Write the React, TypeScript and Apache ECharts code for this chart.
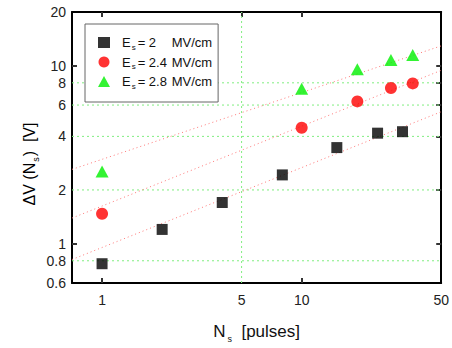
import React, { useEffect, useRef } from "react";
import * as echarts from "echarts";

const xTickLabels = [1, 5, 10, 50];
const yTickLabels = [0.6, 0.8, 1, 2, 4, 6, 8, 10, 20];
const greenGridY = [0.8, 2, 4, 6, 8];
const blueGridY = [1, 10];
const greenGridX = [5];
const blueGridX = [1, 10];
const xRange = [0.707, 50];
const yRange = [0.6, 20];

const seriesNames = ["Es = 2 MV/cm", "Es = 2.4 MV/cm", "Es = 2.8 MV/cm"];
const fieldLabels = ["2", "2.4", "2.8"];

const blackX = [1, 2, 4, 8, 15, 24, 32];
const blackY = [0.77, 1.2, 1.7, 2.43, 3.46, 4.17, 4.25];
const redX = [1, 10, 19, 28, 36];
const redY = [1.47, 4.47, 6.29, 7.48, 7.94];
const greenX = [1, 10, 19, 28, 36];
const greenY = [2.54, 7.4, 9.53, 10.75, 11.45];

const fitX = [0.707, 50];
const fitBlackY = [0.813, 5.5];
const fitRedY = [1.39, 9.4];
const fitGreenY = [2.61, 12.9];

const zip = (xs: number[], ys: number[]) => xs.map((x, i) => [x, ys[i]]);

export default function App() {
  const ref = useRef<HTMLDivElement>(null);
  useEffect(() => {
    const chart = echarts.init(ref.current!, null, { renderer: "svg" });
    const font = "Liberation Sans, Arial, sans-serif";
    const fitLine = (ys: number[]) => ({
      type: "line",
      data: zip(fitX, ys),
      symbol: "none",
      silent: true,
      z: 3,
      lineStyle: { color: "#ff7878", width: 1, type: [1, 3] },
    });
    const gridSeries = (data: number[][], color: string, type: any) => ({
      type: "line",
      data,
      symbol: "none",
      silent: true,
      z: 2,
      lineStyle: { color, width: 1, type },
    });
    const green = "#80ee80";
    const blue = "#5a5aff";
    const grids = [
      ...greenGridY.map((v) => gridSeries([[xRange[0], v], [xRange[1], v]], green, [2, 3])),
      ...greenGridX.map((v) => gridSeries([[v, yRange[0]], [v, yRange[1]]], green, [2, 3])),
    ];
    const mkAxisLine = () => ({ show: true, onZero: false, lineStyle: { color: "#000", width: 2 } });
    const mkTick = (vals: number[]) => ({
      show: true,
      inside: true,
      length: 5,
      lineStyle: { color: "#333", width: 2 },
      customValues: vals,
    });
    const blueSplit = () => ({
      show: true,
      showMinLine: false,
      showMaxLine: false,
      lineStyle: { color: blue, width: 1, type: "solid" },
    });
    const noSplit = () => ({ show: false });
    const rich = {
      e: { fontSize: 13, fontFamily: font, color: "#111" },
      s: { fontSize: 8, fontFamily: font, color: "#111", padding: [9, 2, 0, 1] },
      n: { fontSize: 13, fontFamily: font, color: "#111", width: 34 },
      u: { fontSize: 13, fontFamily: font, color: "#111" },
    };
    const titleRich = {
      a: { fontSize: 16, fontFamily: font, color: "#111" },
      s: { fontSize: 9, fontFamily: font, color: "#111", padding: [14, 1, 0, 1] },
    };
    chart.setOption({
      animation: false,
      backgroundColor: "#fff",
      grid: { show: false, left: 72, right: 9, top: 12, bottom: 59, containLabel: false },
      graphic: [
        {
          type: "text",
          x: 29,
          y: 164,
          rotation: Math.PI / 2,
          style: {
            text: "{a|\u0394V (N}{s|s}{a|)  [V]}",
            rich: titleRich,
            align: "center",
            verticalAlign: "middle",
          },
        },
      ],
      legend: {
        data: seriesNames,
        orient: "vertical",
        left: 85,
        top: 24,
        z: 10,
        padding: [12, 6, 12, 13],
        itemGap: 4.5,
        itemWidth: 12,
        itemHeight: 11,
        backgroundColor: "#fff",
        borderColor: "#666",
        borderWidth: 1,
        textStyle: { padding: [0, 0, 0, 7], rich },
        formatter: (name: string) => {
          const i = seriesNames.indexOf(name);
          return `{e|E}{s|s}{n|= ${fieldLabels[i]}}{u|MV/cm}`;
        },
      },
      xAxis: [
        {
          type: "log",
          logBase: 10,
          min: xRange[0],
          max: xRange[1],
          name: "{a|N}{s|s}{a|  [pulses]}",
          nameLocation: "middle",
          nameGap: 37,
          nameTextStyle: {
            rich: {
              a: { fontSize: 17, fontFamily: font, color: "#111" },
              s: { fontSize: 9, fontFamily: font, color: "#111", padding: [14, 0, 0, 2] },
            },
          },
          axisLine: mkAxisLine(),
          axisTick: mkTick(blueGridX),
          splitLine: blueSplit(),
          minorSplitLine: noSplit(),
          minorTick: { show: false },
          axisLabel: {
            customValues: xTickLabels,
            fontSize: 14,
            fontFamily: font,
            color: "#222",
            margin: 10,
            formatter: (v: number) => String(v),
          },
        },
        {
          type: "log",
          logBase: 10,
          position: "top",
          min: xRange[0],
          max: xRange[1],
          axisLine: mkAxisLine(),
          axisTick: mkTick([1, 5, 10]),
          axisLabel: { show: false },
          splitLine: noSplit(),
          minorSplitLine: noSplit(),
        },
      ],
      yAxis: [
        {
          type: "log",
          logBase: 10,
          min: yRange[0],
          max: yRange[1],
          axisLine: mkAxisLine(),
          axisTick: mkTick(blueGridY),
          splitLine: blueSplit(),
          minorSplitLine: noSplit(),
          axisLabel: {
            customValues: yTickLabels,
            fontSize: 14,
            fontFamily: font,
            color: "#222",
            margin: 6,
            formatter: (v: number) => String(v),
          },
        },
        {
          type: "log",
          logBase: 10,
          position: "right",
          min: yRange[0],
          max: yRange[1],
          axisLine: mkAxisLine(),
          axisTick: mkTick([1, 2, 4, 6, 8, 10]),
          axisLabel: { show: false },
          splitLine: noSplit(),
          minorSplitLine: noSplit(),
        },
      ],
      series: [
        ...grids,
        fitLine(fitBlackY),
        fitLine(fitRedY),
        fitLine(fitGreenY),
        {
          name: seriesNames[0],
          type: "scatter",
          symbol: "rect",
          symbolSize: 11,
          itemStyle: { color: "#000" },
          data: zip(blackX, blackY),
          z: 5,
        },
        {
          name: seriesNames[1],
          type: "scatter",
          symbol: "circle",
          symbolSize: 12,
          itemStyle: { color: "#ff0000" },
          data: zip(redX, redY),
          z: 5,
        },
        {
          name: seriesNames[2],
          type: "scatter",
          symbol: "triangle",
          symbolSize: [13, 12],
          itemStyle: { color: "#00f000" },
          data: zip(greenX, greenY),
          z: 5,
        },
      ],
    });
    return () => chart.dispose();
  }, []);
  return <div ref={ref} style={{ width: 452, height: 348, position: "fixed", left: 0, top: 0 }} />;
}
